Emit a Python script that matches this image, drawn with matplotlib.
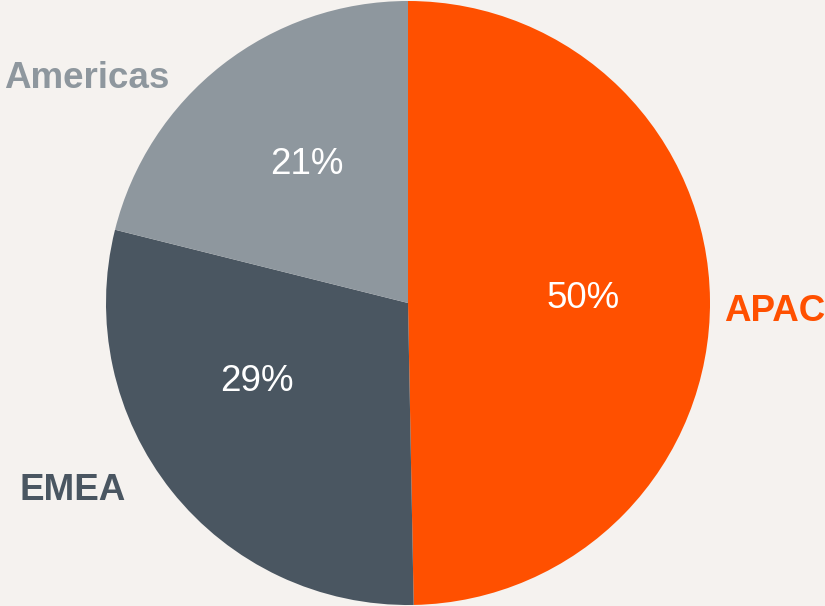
import matplotlib
matplotlib.use("Agg")
import matplotlib.pyplot as plt

plt.rcParams["font.family"] = ["Liberation Sans", "DejaVu Sans"]

regions = ["APAC", "EMEA", "Americas"]
shares = [49.7, 29.2, 21.1]
pct_labels = ["50%", "29%", "21%"]
colors = ["#ff5000", "#4a5661", "#8e979e"]
BG = "#f5f2ef"

W, H = 825, 606
fig = plt.figure(figsize=(W / 100, H / 100), dpi=100, facecolor=BG)

# pie centred at (408, 303) px with radius ~302 px
cx, cy, r = 408, 303, 302
ax = fig.add_axes([(cx - r) / W, (H - cy - r) / H, 2 * r / W, 2 * r / H])
ax.set_facecolor(BG)
wedges, _ = ax.pie(shares, colors=colors, startangle=90, counterclock=False,
                   radius=1.0, wedgeprops={"linewidth": 0})
ax.set_xlim(-1, 1)
ax.set_ylim(-1, 1)
ax.set_aspect("equal")
ax.axis("off")

# percentage labels inside the slices (data coords, radius = 1)
pct_pos = [(0.58, 0.015), (-0.50, -0.26), (-0.335, 0.46)]
for (x, y), t in zip(pct_pos, pct_labels):
    ax.text(x, y, t, color="white", fontsize=26.5, ha="center", va="center")

# category labels outside the pie (pixel positions)
outer = [(724, 311, "left"), (19, 491, "left"), (4, 78, "left")]
for (px, py, ha), name, c in zip(outer, regions, colors):
    fig.text(px / W, 1 - py / H, name, color=c, fontsize=26.5, fontweight="bold",
             ha=ha, va="center")

fig.savefig("out.png", dpi=100, facecolor=BG)
